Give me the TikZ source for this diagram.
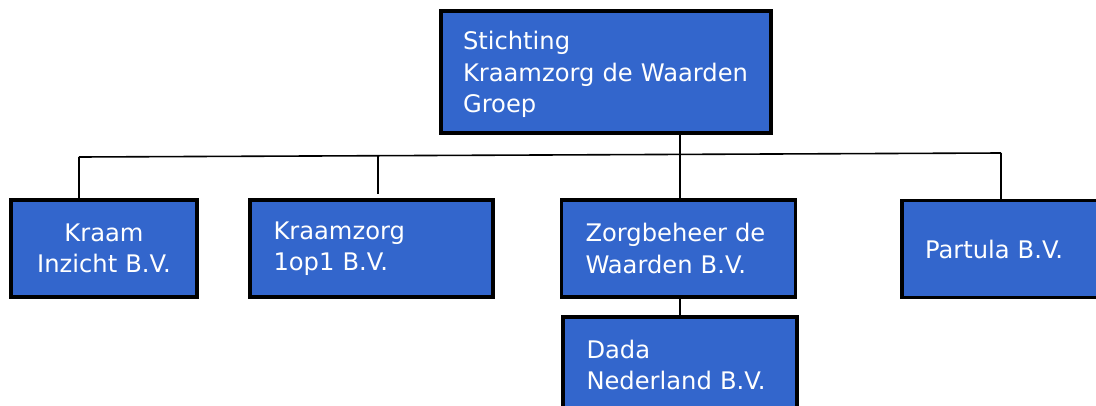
\documentclass[tikz,border=0pt]{standalone}
\usepackage{fontspec}
\setmainfont{DejaVu Sans}
\definecolor{boxblue}{RGB}{51,102,204}
\begin{document}
\begin{tikzpicture}[x=1pt,y=-1pt,
  orgbox/.style={draw=black, line width=3.5pt, fill=boxblue, text=white,
    font=\fontsize{24.2}{31.5}\selectfont, inner ysep=0pt, anchor=center},
  link/.style={draw=black, line width=1.6pt}]
\useasboundingbox (0,0) rectangle (1096,405);
\node[orgbox, minimum width=330, minimum height=122, text width=286, inner xsep=22, align=left] (top) at (606,72) {\rule{0pt}{24pt}Stichting\\Kraamzorg de Waarden\\Groep};
\node[orgbox, minimum width=186, minimum height=97, text width=180, inner xsep=3, align=center] (kraam) at (104,248.5) {Kraam\\Inzicht B.V.};
\node[orgbox, minimum width=243, minimum height=97, text width=196, inner xsep=23, align=left] (kzorg) at (371.5,248.5) {Kraamzorg\\1op1 B.V.};
\node[orgbox, minimum width=233, minimum height=97, text width=186, inner xsep=24, align=left] (zorg) at (678.5,248.5) {Zorgbeheer de\\Waarden B.V.};
\node[orgbox, minimum width=234, minimum height=96, text width=187, inner xsep=23, align=left] (dada) at (680,365) {Dada\\Nederland B.V.};
\node[orgbox, minimum width=210, minimum height=97, text width=164, inner xsep=23, align=left] (partula) at (1007,249) {Partula B.V.};
% connectors
\coordinate (busL) at (79,157);
\coordinate (busR) at (1001,153);
\coordinate (tickT) at (378,156);
\coordinate (tickB) at (378,194);
\draw[link] (busL) -- (busR);
\draw[link] (top.south -| dada.north) -- (dada.north |- zorg.north);
\draw[link] (busL) -- (busL |- kraam.north);
\draw[link] (busR) -- (busR |- partula.north);
\draw[link] (tickT) -- (tickB);
\draw[link] (dada.north |- zorg.south) -- (dada.north);
\end{tikzpicture}
\end{document}
